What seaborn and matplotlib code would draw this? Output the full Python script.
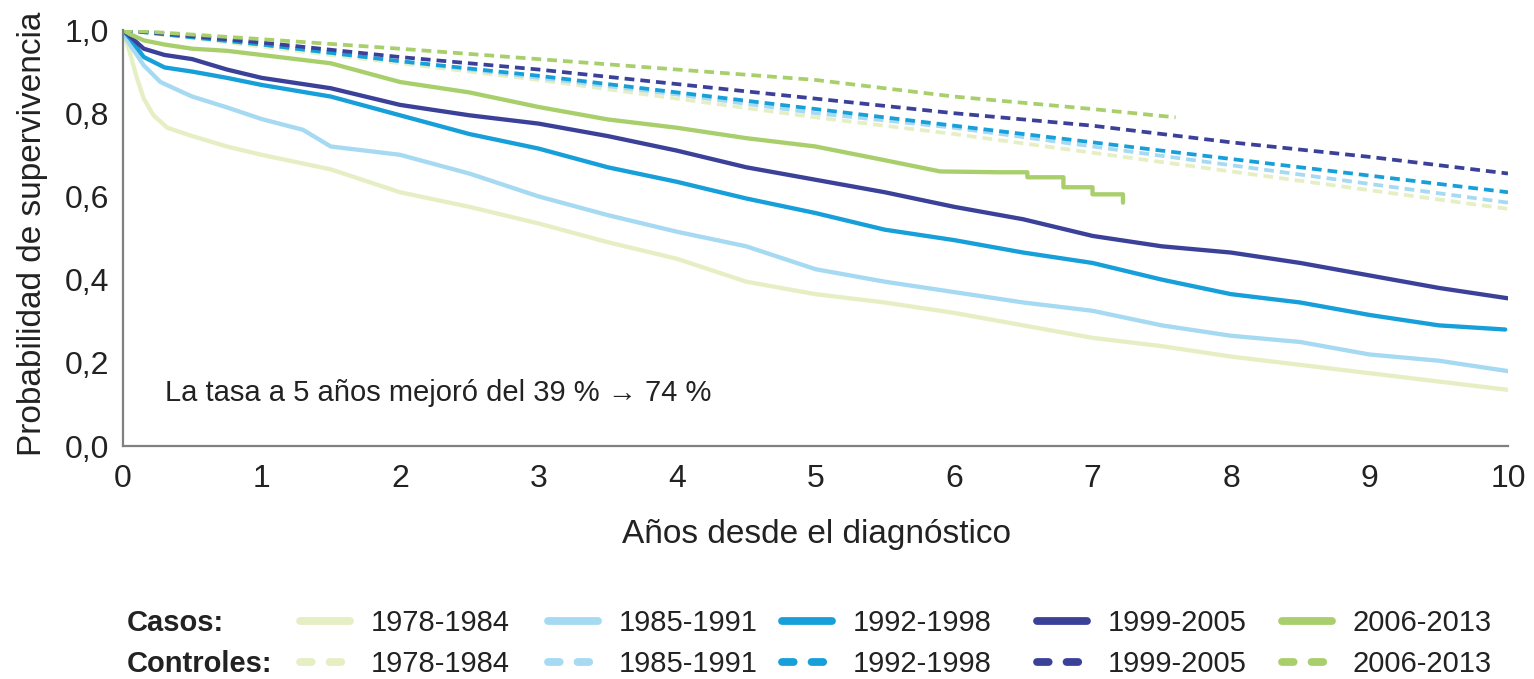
import numpy as np
import pandas as pd
import matplotlib
matplotlib.use("Agg")
import matplotlib.pyplot as plt
from matplotlib.lines import Line2D
import seaborn as sns

# ---------------- data ----------------
periods = ["1978-1984", "1985-1991", "1992-1998", "1999-2005", "2006-2013"]
colors = ["#e6efc4", "#a6d9f2", "#179fd9", "#3b4199", "#a8cf6b"]

t_case_1978 = [0, 0.02, 0.05, 0.1, 0.15, 0.22, 0.32, 0.5, 0.75, 1.0, 1.5, 2.0, 2.5, 3.0, 3.5, 4.0, 4.5, 5.0, 5.5, 6.0, 6.5, 7.0, 7.5, 8.0, 8.5, 9.0, 9.5, 10]
s_case_1978 = [1.0, 0.975, 0.945, 0.885, 0.835, 0.795, 0.765, 0.745, 0.72, 0.70, 0.665, 0.61, 0.575, 0.535, 0.49, 0.45, 0.395, 0.365, 0.345, 0.32, 0.29, 0.26, 0.24, 0.215, 0.195, 0.175, 0.155, 0.135]

t_case_1985 = [0, 0.03, 0.07, 0.15, 0.27, 0.4, 0.5, 0.75, 1.0, 1.3, 1.5, 2.0, 2.5, 3.0, 3.5, 4.0, 4.5, 5.0, 5.5, 6.0, 6.5, 7.0, 7.5, 8.0, 8.5, 9.0, 9.5, 10]
s_case_1985 = [1.0, 0.975, 0.955, 0.915, 0.875, 0.855, 0.84, 0.814, 0.786, 0.76, 0.72, 0.70, 0.655, 0.60, 0.555, 0.515, 0.48, 0.425, 0.395, 0.37, 0.345, 0.325, 0.29, 0.265, 0.25, 0.22, 0.205, 0.18]

t_case_1992 = [0, 0.05, 0.15, 0.3, 0.5, 0.75, 1.0, 1.5, 2.0, 2.5, 3.0, 3.5, 4.0, 4.5, 5.0, 5.5, 6.0, 6.5, 7.0, 7.5, 8.0, 8.5, 9.0, 9.5, 9.98]
s_case_1992 = [1.0, 0.98, 0.935, 0.91, 0.90, 0.885, 0.868, 0.84, 0.795, 0.75, 0.715, 0.67, 0.635, 0.595, 0.56, 0.52, 0.495, 0.465, 0.44, 0.40, 0.365, 0.345, 0.315, 0.29, 0.28]

t_case_1999 = [0, 0.05, 0.15, 0.3, 0.5, 0.75, 1.0, 1.5, 2.0, 2.5, 3.0, 3.5, 4.0, 4.5, 5.0, 5.5, 6.0, 6.5, 7.0, 7.5, 8.0, 8.5, 9.0, 9.5, 10]
s_case_1999 = [1.0, 0.985, 0.955, 0.94, 0.93, 0.905, 0.885, 0.86, 0.82, 0.795, 0.775, 0.745, 0.71, 0.67, 0.64, 0.61, 0.575, 0.545, 0.505, 0.48, 0.465, 0.44, 0.41, 0.38, 0.355]

t_case_2006 = [0, 0.05, 0.15, 0.3, 0.5, 0.75, 1.0, 1.5, 2.0, 2.5, 3.0, 3.5, 4.0, 4.5, 5.0, 5.47, 5.9, 6.33, 6.53, 6.53, 6.79, 6.79, 7.0, 7.0, 7.22, 7.22]
s_case_2006 = [1.0, 0.99, 0.975, 0.965, 0.955, 0.95, 0.94, 0.92, 0.875, 0.85, 0.815, 0.785, 0.765, 0.74, 0.72, 0.689, 0.66, 0.658, 0.658, 0.646, 0.646, 0.622, 0.622, 0.605, 0.605, 0.585]

t_ctrl = [0, 1, 2, 3, 4, 5, 6, 7, 8, 9, 10]
s_ctrl_1978 = [1.0, 0.96, 0.92, 0.88, 0.835, 0.79, 0.75, 0.705, 0.66, 0.615, 0.57]
s_ctrl_1985 = [1.0, 0.965, 0.925, 0.885, 0.845, 0.80, 0.765, 0.72, 0.675, 0.63, 0.585]
s_ctrl_1992 = [1.0, 0.965, 0.925, 0.89, 0.85, 0.81, 0.77, 0.73, 0.69, 0.65, 0.61]
s_ctrl_1999 = [1.0, 0.97, 0.935, 0.905, 0.87, 0.835, 0.80, 0.77, 0.73, 0.695, 0.655]
t_ctrl_2006 = [0, 1, 2, 3, 4, 5, 6, 7, 7.6]
s_ctrl_2006 = [1.0, 0.978, 0.955, 0.93, 0.905, 0.88, 0.84, 0.81, 0.79]

y_ticks = [0.0, 0.2, 0.4, 0.6, 0.8, 1.0]
y_tick_labels = ["0,0", "0,2", "0,4", "0,6", "0,8", "1,0"]
x_ticks = list(range(0, 11))

# ---------------- figure ----------------
sns.set_theme(style="white")
plt.rcParams["font.family"] = ["Liberation Sans", "DejaVu Sans"]

W, H = 1534, 679
fig = plt.figure(figsize=(W / 100, H / 100), dpi=100)
ax = fig.add_axes([123 / W, 1 - 446 / H, (1508 - 123) / W, (446 - 30) / H])

case_series = [(t_case_1978, s_case_1978), (t_case_1985, s_case_1985),
               (t_case_1992, s_case_1992), (t_case_1999, s_case_1999),
               (t_case_2006, s_case_2006)]
ctrl_series = [(t_ctrl, s_ctrl_1978), (t_ctrl, s_ctrl_1985), (t_ctrl, s_ctrl_1992),
               (t_ctrl, s_ctrl_1999), (t_ctrl_2006, s_ctrl_2006)]

dash = (0, (2.6, 1.6))
for (t, s), c in zip(ctrl_series, colors):
    df = pd.DataFrame({"t": t, "s": s})
    sns.lineplot(data=df, x="t", y="s", ax=ax, color=c, lw=2.7, linestyle=dash,
                 estimator=None, sort=False)
for (t, s), c in zip(case_series, colors):
    df = pd.DataFrame({"t": t, "s": s})
    sns.lineplot(data=df, x="t", y="s", ax=ax, color=c, lw=3.1,
                 estimator=None, sort=False)

ax.set_xlim(0, 10)
ax.set_ylim(0, 1)
ax.set_xticks(x_ticks)
ax.set_xticklabels([str(v) for v in x_ticks])
ax.set_yticks(y_ticks)
ax.set_yticklabels(y_tick_labels)

for side in ["top", "right"]:
    ax.spines[side].set_visible(False)
for side in ["left", "bottom"]:
    ax.spines[side].set_color("#808080")
    ax.spines[side].set_linewidth(1.6)
ax.tick_params(axis="both", which="major", direction="out", length=4, width=1.2,
               color="#808080", labelsize=23, labelcolor="#222222")
ax.tick_params(axis="x", pad=9)
ax.tick_params(axis="y", pad=6)

ax.set_xlabel("Años desde el diagnóstico", fontsize=24, color="#222222")
ax.set_ylabel("Probabilidad de supervivencia", fontsize=24, color="#222222")
ax.xaxis.set_label_coords((816 - 123) / 1385, (446 - 519) / 416)
ax.yaxis.set_label_coords((48 - 123) / 1385, 0.51)

ax.text(0.3, 0.128, "La tasa a 5 años mejoró del 39 % → 74 %", fontsize=21,
        color="#222222", va="center", ha="left")

# ---------------- legend (one column per period) ----------------
col_x = [300, 548, 782, 1037, 1282]
for p, c, x0 in zip(periods, colors, col_x):
    h_case = Line2D([], [], color=c, lw=5.6, solid_capstyle="round")
    h_ctrl = Line2D([], [], color=c, lw=5.6, linestyle=(0, (1.5, 2.3)),
                    dash_capstyle="round")
    leg = fig.legend([h_case, h_ctrl], [p, p], loc="upper left",
                     bbox_to_anchor=(x0 / W, 1 - 609 / H), frameon=False,
                     fontsize=21, handlelength=1.7, handletextpad=0.72,
                     labelspacing=0.45, borderpad=0, borderaxespad=0)
    for txt in leg.get_texts():
        txt.set_color("#222222")

fig.text(127 / W, 1 - 623 / H, "Casos:", fontsize=21, fontweight="bold",
         color="#222222", va="center", ha="left")
fig.text(127 / W, 1 - 664 / H, "Controles:", fontsize=21, fontweight="bold",
         color="#222222", va="center", ha="left")

fig.savefig("out.png", dpi=100, facecolor="white")
